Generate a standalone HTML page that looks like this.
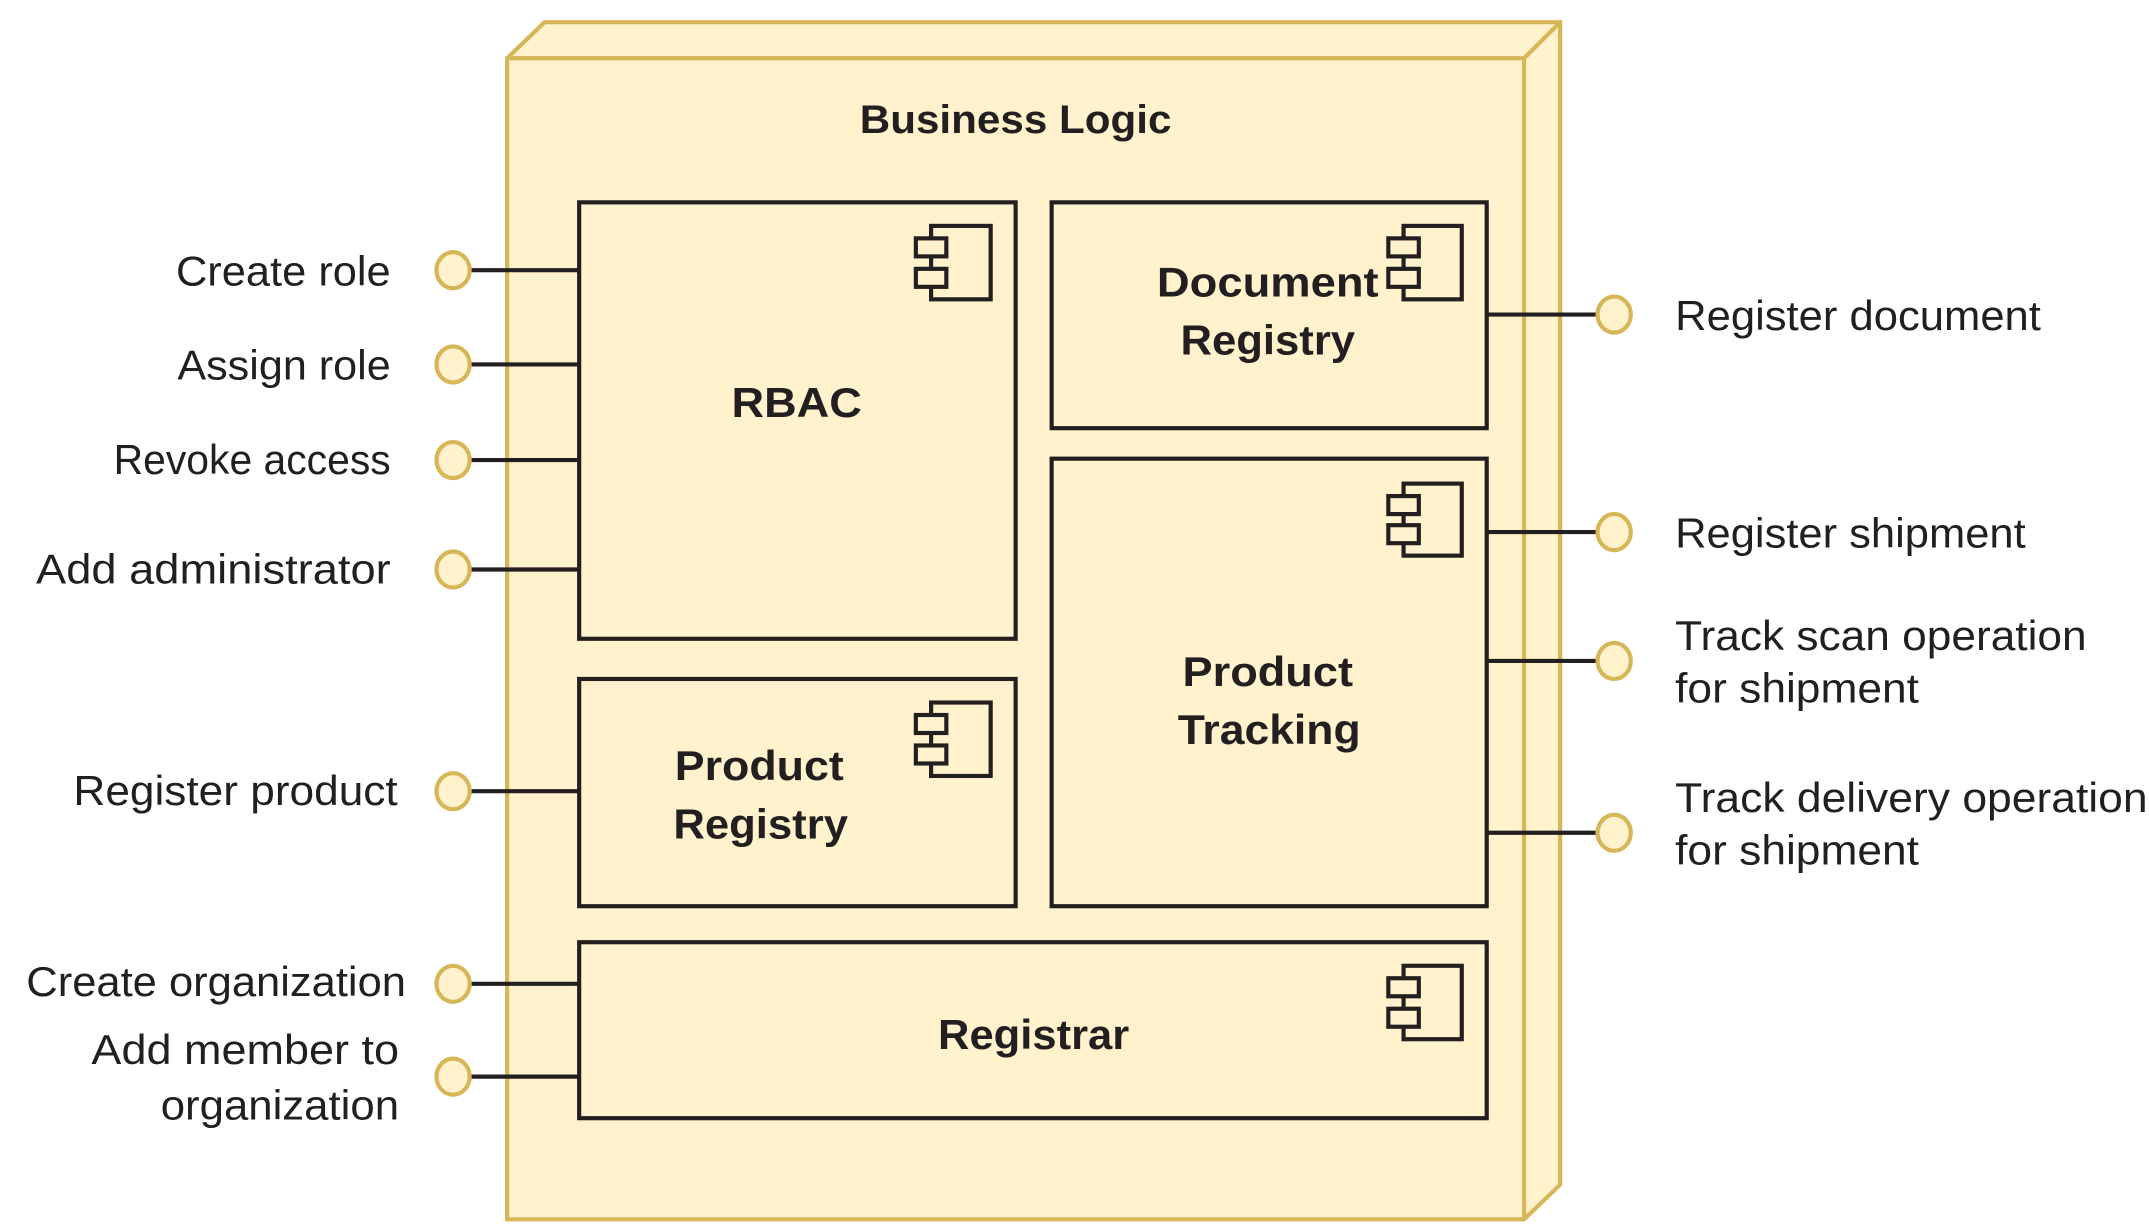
<!DOCTYPE html>
<html><head><meta charset="utf-8"><style>html,body{margin:0;padding:0;background:#fff}svg{display:block}</style></head>
<body>
<svg width="2149" height="1227" viewBox="0 0 1551 885.5" xmlns="http://www.w3.org/2000/svg" font-family="Liberation Sans, sans-serif" fill="#231f20">
<!-- node -->
<path d="M366,42 L393,16 L1126,16 L1126,855 L1100,880 L366,880 Z" fill="#fff2cc" stroke="#d6b656" stroke-width="3"/>
<path d="M366,42 L1100,42 L1126,16 M1100,42 L1100,880" fill="none" stroke="#d6b656" stroke-width="3"/>
<text x="733" y="96" font-size="29" font-weight="bold" text-anchor="middle" textLength="225" lengthAdjust="spacingAndGlyphs">Business Logic</text>

<g fill="#fff2cc" stroke="#231f20" stroke-width="3">
<rect x="418" y="146" width="315" height="315"/>
<rect x="759" y="146" width="314" height="163"/>
<rect x="759" y="331" width="314" height="323"/>
<rect x="418" y="490" width="315" height="164"/>
<rect x="418" y="680" width="655" height="127"/>
</g>
<!-- component icons -->
<g fill="#fff2cc" stroke="#231f20" stroke-width="3">
<g transform="translate(672,163)"><rect x="0" y="0" width="43" height="53"/><rect x="-11" y="9" width="22" height="13"/><rect x="-11" y="31" width="22" height="13"/></g>
<g transform="translate(1013,163)"><rect x="0" y="0" width="42" height="53"/><rect x="-11" y="9" width="22" height="13"/><rect x="-11" y="31" width="22" height="13"/></g>
<g transform="translate(1013,349)"><rect x="0" y="0" width="42" height="52"/><rect x="-11" y="9" width="22" height="13"/><rect x="-11" y="30" width="22" height="13"/></g>
<g transform="translate(672,507)"><rect x="0" y="0" width="43" height="53"/><rect x="-11" y="9" width="22" height="13"/><rect x="-11" y="31" width="22" height="13"/></g>
<g transform="translate(1013,697)"><rect x="0" y="0" width="42" height="53"/><rect x="-11" y="9" width="22" height="13"/><rect x="-11" y="31" width="22" height="13"/></g>
</g>
<g font-size="30" font-weight="bold" text-anchor="middle">
<text x="575" y="301" textLength="94" lengthAdjust="spacingAndGlyphs">RBAC</text>
<text x="915" y="214" textLength="160" lengthAdjust="spacingAndGlyphs">Document</text>
<text x="915" y="256" textLength="126" lengthAdjust="spacingAndGlyphs">Registry</text>
<text x="915" y="495" textLength="123" lengthAdjust="spacingAndGlyphs">Product</text>
<text x="916" y="537" textLength="132" lengthAdjust="spacingAndGlyphs">Tracking</text>
<text x="548" y="563" textLength="122" lengthAdjust="spacingAndGlyphs">Product</text>
<text x="549" y="605" textLength="126" lengthAdjust="spacingAndGlyphs">Registry</text>
<text x="746" y="757" textLength="138" lengthAdjust="spacingAndGlyphs">Registrar</text>
</g>
<!-- lollipops -->
<g stroke="#231f20" stroke-width="3">
<line x1="339" y1="195" x2="418" y2="195"/>
<line x1="339" y1="263" x2="418" y2="263"/>
<line x1="339" y1="332" x2="418" y2="332"/>
<line x1="339" y1="411" x2="418" y2="411"/>
<line x1="339" y1="571" x2="418" y2="571"/>
<line x1="339" y1="710" x2="418" y2="710"/>
<line x1="339" y1="777" x2="418" y2="777"/>
<line x1="1073" y1="227" x2="1153" y2="227"/>
<line x1="1073" y1="384" x2="1153" y2="384"/>
<line x1="1073" y1="477" x2="1153" y2="477"/>
<line x1="1073" y1="601" x2="1153" y2="601"/>
</g>
<g fill="#fff2cc" stroke="#d6b656" stroke-width="3">
<ellipse cx="327" cy="195" rx="12" ry="13"/>
<ellipse cx="327" cy="263" rx="12" ry="13"/>
<ellipse cx="327" cy="332" rx="12" ry="13"/>
<ellipse cx="327" cy="411" rx="12" ry="13"/>
<ellipse cx="327" cy="571" rx="12" ry="13"/>
<ellipse cx="327" cy="710" rx="12" ry="13"/>
<ellipse cx="327" cy="777" rx="12" ry="13"/>
<ellipse cx="1165" cy="227" rx="12" ry="13"/>
<ellipse cx="1165" cy="384" rx="12" ry="13"/>
<ellipse cx="1165" cy="477" rx="12" ry="13"/>
<ellipse cx="1165" cy="601" rx="12" ry="13"/>
</g>
<g font-size="30" text-anchor="end">
<text x="282" y="206" textLength="155" lengthAdjust="spacingAndGlyphs">Create role</text>
<text x="282" y="274" textLength="154" lengthAdjust="spacingAndGlyphs">Assign role</text>
<text x="282" y="342" textLength="200" lengthAdjust="spacingAndGlyphs">Revoke access</text>
<text x="282" y="421" textLength="256" lengthAdjust="spacingAndGlyphs">Add administrator</text>
<text x="287" y="581" textLength="234" lengthAdjust="spacingAndGlyphs">Register product</text>
<text x="293" y="719" textLength="274" lengthAdjust="spacingAndGlyphs">Create organization</text>
<text x="288" y="768" textLength="222" lengthAdjust="spacingAndGlyphs">Add member to</text>
<text x="288" y="808" textLength="172" lengthAdjust="spacingAndGlyphs">organization</text>
</g>
<g font-size="30">
<text x="1209" y="238" textLength="264" lengthAdjust="spacingAndGlyphs">Register document</text>
<text x="1209" y="395" textLength="253" lengthAdjust="spacingAndGlyphs">Register shipment</text>
<text x="1209" y="469" textLength="297" lengthAdjust="spacingAndGlyphs">Track scan operation</text>
<text x="1209" y="507" textLength="176" lengthAdjust="spacingAndGlyphs">for shipment</text>
<text x="1209" y="586" textLength="341" lengthAdjust="spacingAndGlyphs">Track delivery operation</text>
<text x="1209" y="624" textLength="176" lengthAdjust="spacingAndGlyphs">for shipment</text>
</g>
</svg>
</body></html>
